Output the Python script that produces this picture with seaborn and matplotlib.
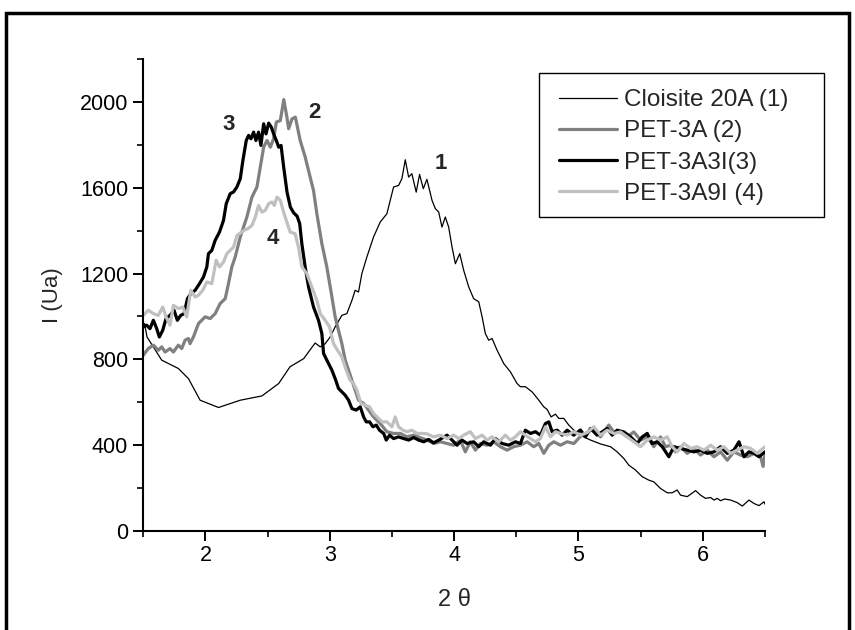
"""
XRD patterns of Cloisite 20A and the PET nanocomposites (low-angle region).
"""

import numpy as np
import pandas as pd
import matplotlib.pyplot as plt
import seaborn as sns
from matplotlib.patches import Rectangle
from matplotlib.ticker import MultipleLocator


# ---- data (2 theta, intensity in a.u.) ----
tt_cloisite = [
    1.51, 1.53, 1.648, 1.782, 1.863, 1.957, 2.105, 2.28, 2.454, 2.589, 2.68, 2.79,
    2.882, 2.923, 2.963, 3.003, 3.043, 3.097, 3.137, 3.178, 3.204, 3.231, 3.258,
    3.298, 3.352, 3.406, 3.459, 3.513, 3.553, 3.58, 3.607, 3.634, 3.66, 3.695,
    3.722, 3.752, 3.781, 3.822, 3.849, 3.876, 3.902, 3.929, 3.956, 3.983, 4.01,
    4.045, 4.077, 4.117, 4.157, 4.198, 4.225, 4.251, 4.278, 4.305, 4.345, 4.399,
    4.453, 4.506, 4.533, 4.573, 4.627, 4.681, 4.721, 4.748, 4.78, 4.815, 4.842,
    4.882, 4.922, 4.976, 5.043, 5.097, 5.177, 5.258, 5.311, 5.365, 5.405, 5.459,
    5.513, 5.566, 5.606, 5.66, 5.714, 5.754, 5.794, 5.821, 5.875, 5.942, 5.982,
    6.022, 6.063, 6.09, 6.116, 6.143, 6.175, 6.224, 6.277, 6.318, 6.371, 6.412,
    6.452, 6.492, 6.5,
]
i_cloisite = [
    967, 904, 796, 757, 710, 609, 575, 609, 629, 687, 765, 803,
    876, 858, 873, 904, 951, 1005, 1013, 1075, 1122, 1114, 1200,
    1277, 1371, 1441, 1479, 1604, 1611, 1643, 1731, 1650, 1666, 1580,
    1663, 1596, 1640, 1542, 1503, 1487, 1417, 1464, 1417, 1324, 1246,
    1293, 1215, 1138, 1083, 1068, 998, 920, 889, 897, 843, 780,
    741, 687, 672, 672, 648, 609, 578, 566, 531, 544, 524,
    524, 493, 462, 438, 423, 405, 392, 368, 337, 306, 283,
    252, 236, 228, 197, 177, 177, 190, 166, 159, 187, 166,
    151, 155, 143, 151, 140, 148, 143, 131, 115, 143, 127,
    117, 135, 124,
]

tt_pet3a = [
    1.5, 1.54, 1.581, 1.621, 1.648, 1.675, 1.715, 1.742, 1.782, 1.809, 1.836,
    1.863, 1.876, 1.903, 1.944, 1.97, 1.997, 2.038, 2.078, 2.118, 2.159, 2.185,
    2.212, 2.239, 2.28, 2.333, 2.374, 2.414, 2.441, 2.468, 2.495, 2.522, 2.548,
    2.57, 2.602, 2.63, 2.655, 2.669, 2.696, 2.723, 2.762, 2.802, 2.842, 2.869,
    2.896, 2.936, 2.976, 3.017, 3.043, 3.07, 3.097, 3.124, 3.151, 3.178, 3.204,
    3.231, 3.272, 3.312, 3.352, 3.406, 3.459, 3.513, 3.567, 3.62, 3.674, 3.728,
    3.782, 3.835, 3.889, 3.943, 3.996, 4.05, 4.09, 4.13, 4.171, 4.211, 4.265,
    4.318, 4.372, 4.426, 4.479, 4.533, 4.587, 4.64, 4.681, 4.721, 4.761, 4.802,
    4.855, 4.909, 4.963, 5.016, 5.07, 5.123, 5.177, 5.244, 5.284, 5.338, 5.392,
    5.445, 5.499, 5.553, 5.606, 5.66, 5.7, 5.741, 5.781, 5.821, 5.875, 5.929,
    5.982, 6.036, 6.09, 6.143, 6.197, 6.25, 6.304, 6.358, 6.412, 6.465, 6.485,
    6.5,
]
i_pet3a = [
    819, 850, 866, 842, 858, 834, 850, 834, 866, 850, 889,
    897, 873, 904, 967, 982, 998, 990, 1013, 1060, 1083, 1153,
    1231, 1277, 1371, 1464, 1557, 1604, 1697, 1790, 1821, 1790, 1829,
    1907, 1914, 2012, 1930, 1876, 1922, 1930, 1821, 1744, 1650, 1588,
    1479, 1340, 1231, 1091, 998, 935, 873, 796, 749, 702, 656,
    609, 594, 563, 531, 500, 462, 454, 454, 438, 446, 434,
    423, 407, 415, 407, 399, 423, 368, 415, 376, 407, 399,
    415, 392, 376, 392, 399, 415, 392, 407, 361, 399, 415,
    399, 415, 407, 440, 458, 477, 438, 493, 461, 461, 438,
    461, 423, 438, 392, 438, 392, 399, 368, 392, 361, 384,
    353, 376, 345, 368, 329, 368, 353, 345, 361, 345, 300,
    355,
]

tt_pet3a3i = [
    1.5, 1.527, 1.554, 1.581, 1.608, 1.629, 1.656, 1.683, 1.715, 1.747, 1.774,
    1.801, 1.828, 1.855, 1.882, 1.917, 1.952, 1.984, 2.011, 2.024, 2.051, 2.078,
    2.113, 2.145, 2.167, 2.199, 2.226, 2.253, 2.28, 2.301, 2.328, 2.347, 2.366,
    2.387, 2.406, 2.427, 2.446, 2.468, 2.487, 2.508, 2.53, 2.548, 2.57, 2.589,
    2.608, 2.629, 2.656, 2.683, 2.71, 2.737, 2.758, 2.775, 2.802, 2.829, 2.869,
    2.909, 2.936, 2.95, 2.976, 3.017, 3.043, 3.07, 3.097, 3.124, 3.151, 3.178,
    3.212, 3.245, 3.272, 3.293, 3.32, 3.347, 3.374, 3.4, 3.433, 3.454, 3.481,
    3.513, 3.553, 3.594, 3.634, 3.674, 3.714, 3.755, 3.795, 3.835, 3.883, 3.943,
    3.983, 4.023, 4.063, 4.104, 4.157, 4.198, 4.238, 4.292, 4.332, 4.386, 4.439,
    4.493, 4.533, 4.573, 4.614, 4.654, 4.694, 4.734, 4.761, 4.788, 4.828, 4.869,
    4.909, 4.962, 5.016, 5.056, 5.097, 5.15, 5.19, 5.231, 5.271, 5.311, 5.365,
    5.419, 5.472, 5.513, 5.553, 5.593, 5.633, 5.674, 5.727, 5.767, 5.821, 5.875,
    5.929, 5.982, 6.036, 6.09, 6.143, 6.197, 6.25, 6.291, 6.331, 6.371, 6.412,
    6.452, 6.5,
]
i_pet3a3i = [
    951, 959, 943, 982, 943, 904, 935, 990, 1005, 1029, 982,
    1005, 1013, 1083, 1106, 1122, 1153, 1184, 1231, 1293, 1308, 1355,
    1394, 1448, 1526, 1573, 1581, 1604, 1643, 1728, 1821, 1845, 1829,
    1860, 1821, 1860, 1798, 1899, 1852, 1902, 1883, 1852, 1821, 1790,
    1798, 1697, 1580, 1510, 1483, 1468, 1433, 1340, 1231, 1138, 1044,
    982, 920, 827, 796, 749, 710, 664, 648, 632, 609, 570,
    563, 578, 531, 508, 508, 485, 493, 469, 454, 423, 446,
    430, 438, 430, 423, 435, 423, 415, 426, 410, 425, 446,
    423, 399, 423, 407, 415, 392, 415, 399, 430, 407, 399,
    415, 407, 469, 454, 462, 446, 500, 508, 462, 469, 446,
    469, 446, 470, 438, 477, 446, 461, 477, 446, 469, 461,
    438, 407, 438, 454, 407, 415, 392, 345, 392, 384, 376,
    368, 376, 361, 368, 392, 361, 376, 415, 345, 368, 361,
    345, 368,
]

tt_pet3a9i = [
    1.5, 1.54, 1.581, 1.621, 1.656, 1.683, 1.715, 1.742, 1.782, 1.817, 1.849,
    1.882, 1.917, 1.944, 1.978, 2.011, 2.051, 2.086, 2.113, 2.145, 2.172, 2.199,
    2.226, 2.253, 2.28, 2.312, 2.339, 2.374, 2.401, 2.427, 2.454, 2.481, 2.508,
    2.535, 2.554, 2.575, 2.602, 2.627, 2.654, 2.681, 2.721, 2.748, 2.775, 2.815,
    2.855, 2.896, 2.923, 2.963, 2.998, 3.03, 3.062, 3.097, 3.132, 3.164, 3.191,
    3.218, 3.25, 3.285, 3.32, 3.352, 3.392, 3.419, 3.459, 3.5, 3.526, 3.553,
    3.588, 3.62, 3.661, 3.701, 3.741, 3.782, 3.835, 3.889, 3.943, 3.996, 4.037,
    4.077, 4.13, 4.171, 4.225, 4.265, 4.305, 4.359, 4.412, 4.453, 4.493, 4.533,
    4.573, 4.614, 4.654, 4.694, 4.734, 4.775, 4.815, 4.855, 4.909, 4.962, 5.016,
    5.07, 5.123, 5.177, 5.231, 5.284, 5.338, 5.392, 5.445, 5.499, 5.553, 5.606,
    5.66, 5.714, 5.754, 5.794, 5.848, 5.902, 5.955, 6.009, 6.063, 6.116, 6.17,
    6.224, 6.277, 6.331, 6.385, 6.438, 6.5,
]
i_pet3a9i = [
    1005, 1029, 1013, 1005, 1044, 998, 959, 1052, 1037, 1044, 998,
    1122, 1091, 1099, 1122, 1161, 1153, 1262, 1231, 1254, 1293, 1308,
    1324, 1378, 1389, 1402, 1409, 1425, 1464, 1518, 1487, 1495, 1526,
    1534, 1518, 1557, 1542, 1490, 1441, 1394, 1386, 1324, 1231, 1200,
    1138, 1075, 1013, 982, 951, 873, 842, 811, 749, 702, 687,
    656, 594, 586, 578, 547, 524, 508, 508, 485, 531, 485,
    469, 462, 469, 454, 454, 452, 438, 446, 430, 446, 430,
    446, 462, 430, 446, 423, 438, 415, 446, 423, 438, 462,
    446, 430, 415, 430, 485, 438, 462, 454, 446, 462, 446,
    458, 485, 446, 469, 454, 461, 438, 415, 392, 423, 438,
    423, 438, 392, 368, 407, 384, 392, 376, 399, 376, 392,
    361, 376, 392, 384, 361, 392,
]

labels = ["Cloisite 20A (1)", "PET-3A (2)", "PET-3A3I(3)", "PET-3A9I (4)"]
colors = ["#000000", "#808080", "#000000", "#c0c0c0"]
widths = [0.9, 2.3, 2.3, 2.3]

# peak numbers: (2 theta, intensity, text)
peak_marks = [(3.89, 1715, "1"), (2.875, 1950, "2"), (2.185, 1895, "3"), (2.54, 1365, "4")]


def main() -> None:
    sns.set_theme(style="ticks")
    plt.rcParams.update(
        {
            "font.family": ["Liberation Sans", "DejaVu Sans"],
            "axes.linewidth": 1.5,
            "xtick.major.width": 1.4,
            "ytick.major.width": 1.4,
            "xtick.minor.width": 1.2,
            "ytick.minor.width": 1.2,
            "xtick.major.size": 7,
            "ytick.major.size": 7,
            "xtick.minor.size": 4,
            "ytick.minor.size": 4,
            "xtick.color": "black",
            "ytick.color": "black",
            "axes.edgecolor": "black",
        }
    )

    xs = [tt_cloisite, tt_pet3a, tt_pet3a3i, tt_pet3a9i]
    ys = [i_cloisite, i_pet3a, i_pet3a3i, i_pet3a9i]
    frames = [
        pd.DataFrame({"two_theta": x, "intensity": y, "sample": lab})
        for x, y, lab in zip(xs, ys, labels)
    ]
    df = pd.concat(frames, ignore_index=True)

    fig = plt.figure(figsize=(8.55, 6.3), dpi=100)
    ax = fig.add_axes([0.1676, 0.1576, 0.7271, 0.7483])

    for lab, col, lw in zip(labels, colors, widths):
        sub = df[df["sample"] == lab]
        sns.lineplot(data=sub, x="two_theta", y="intensity", color=col, lw=lw,
                     label=lab, sort=False, estimator=None, ax=ax)

    ax.set_xlim(1.5, 6.5)
    ax.set_ylim(0, 2200)
    ax.xaxis.set_major_locator(MultipleLocator(1))
    ax.xaxis.set_minor_locator(MultipleLocator(0.5))
    ax.yaxis.set_major_locator(MultipleLocator(400))
    ax.yaxis.set_minor_locator(MultipleLocator(200))
    ax.tick_params(axis="both", which="both", direction="out", labelsize=15.5)
    ax.tick_params(axis="x", pad=3)
    ax.tick_params(axis="y", pad=4)
    sns.despine(ax=ax)

    ax.set_xlabel("2 θ", fontsize=17, labelpad=17)
    ax.set_ylabel("I (Ua)", fontsize=16, labelpad=12)

    for x, y, t in peak_marks:
        ax.text(x, y, t, fontsize=16, fontweight="bold", ha="center", va="center")

    # legend without frame; its box is drawn separately
    leg = ax.legend(loc="upper left", bbox_to_anchor=(559 / 855, 1 - 89 / 630),
                    bbox_transform=fig.transFigure, frameon=False, fontsize=17.5,
                    handlelength=2.4, handletextpad=0.28, labelspacing=0.38,
                    borderpad=0, borderaxespad=0)
    for h, lw in zip(leg.get_lines(), widths):
        h.set_linewidth(lw)

    fig.patches.append(Rectangle((539 / 855, 1 - 217 / 630), 285 / 855, 144 / 630,
                                 transform=fig.transFigure, fill=False,
                                 edgecolor="black", lw=1.0))
    # outer frame round the whole figure
    fig.patches.append(Rectangle((6 / 855, -0.02), 843 / 855, 1.0,
                                 transform=fig.transFigure, fill=False,
                                 edgecolor="black", lw=2.5))

    fig.savefig("out.png", dpi=100, facecolor="white")
    plt.close(fig)


if __name__ == "__main__":
    main()
